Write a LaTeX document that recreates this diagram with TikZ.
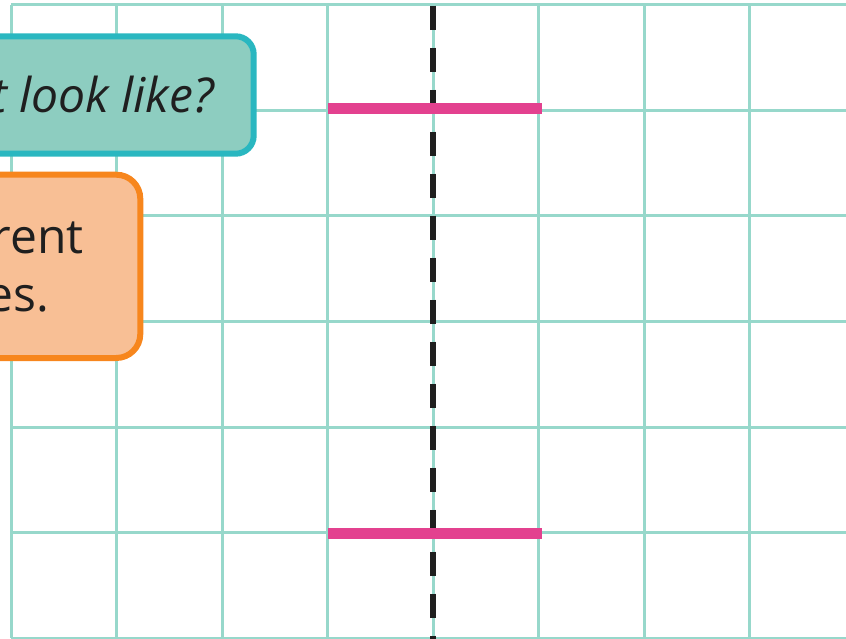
\documentclass[tikz,border=0pt]{standalone}
\usepackage{fontspec}
\setmainfont{Open Sans}
\usepackage{xcolor}
\usetikzlibrary{positioning}

\definecolor{gridteal}{HTML}{97D8CB}
\definecolor{askfill}{HTML}{8DCDC0}
\definecolor{askline}{HTML}{2AB7C0}
\definecolor{tipfill}{HTML}{F8BF95}
\definecolor{tipline}{HTML}{F7861D}
\definecolor{barpink}{HTML}{E3418F}
\definecolor{ink}{HTML}{1F1F1F}

\begin{document}
\begin{tikzpicture}[
  x=1pt, y=-1pt,
  gridline/.style={draw=gridteal, line width=3pt},
  mirror/.style={draw=ink, line width=6pt, dash pattern=on 24pt off 18pt},
  bar/.style={draw=barpink, line width=11pt},
  askbox/.style={draw=askline, fill=askfill, line width=6pt, rounded corners=18pt},
  tipbox/.style={draw=tipline, fill=tipfill, line width=6pt, rounded corners=24pt},
  say/.style={inner sep=0pt, text=ink, font=\fontsize{48}{58}\selectfont}
]
  \useasboundingbox (0,0) rectangle (846,639);
  \clip (0,0) rectangle (846,639);

  % squared paper
  \foreach \i in {0,...,7}
    \draw[gridline] ({11+105.5*\i},5) -- ({11+105.5*\i},638);
  \foreach \j in {0,...,6}
    \draw[gridline] (11,{5+105.5*\j}) -- (846,{5+105.5*\j});

  % mirror line and the two lines
  \draw[mirror] (433,5.7) -- (433,639);
  \draw[bar] (328,109) -- (542,109);
  \draw[bar] (328,533) -- (542,533);

  % speech boxes
  \draw[askbox] (-60,36.3) rectangle (253.7,153.7);
  \node[say, font=\fontsize{48}{58}\selectfont\itshape, anchor=base east] (ask) at (214,113) {t look like?};

  \draw[tipbox] (-60,174.7) rectangle (140.3,358);
  \node[say, anchor=base east] (tipa) at (84,253) {rent};
  \node[say, anchor=base east] (tipb) at (49,311.7) {es.};
\end{tikzpicture}
\end{document}
